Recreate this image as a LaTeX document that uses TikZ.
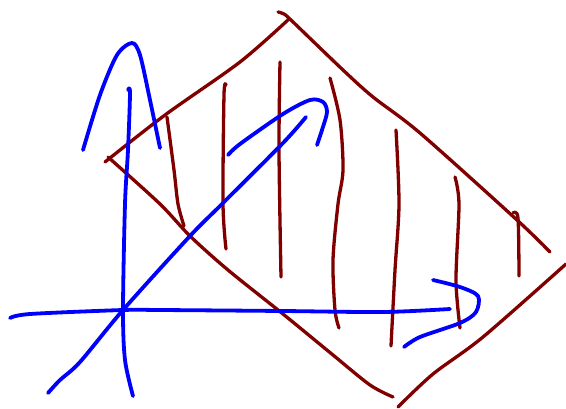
\documentclass[tikz,border=0pt]{standalone}
\usepackage{tikz}
\usepackage{xcolor}
\definecolor{inkred}{HTML}{800000}
\definecolor{inkblue}{HTML}{0000FF}

\begin{document}
\begin{tikzpicture}[x=1pt, y=-1pt,
    bluepen/.style={inkblue, line width=3.8pt, line cap=round, line join=round},
    redpen/.style={inkred, line width=3.3pt, line cap=round, line join=round}]
      \useasboundingbox (0,0) rectangle (566,408);
      % diamond
      \draw[redpen] plot[smooth] coordinates {(105,162) (165,115) (240,62) (289,19)};
      \draw[redpen] plot[smooth] coordinates {(278,12) (284,14) (292,21) (343,70) (373,97) (420,133) (517,220) (550,252)};
      \draw[redpen] plot[smooth] coordinates {(108,157) (160,204) (190,236) (228,270) (283,314) (333,355) (370,385) (393,397)};
      \draw[redpen] plot[smooth] coordinates {(566,264) (483,337) (433,374) (398,407)};
      % hatching
      \draw[redpen] plot[smooth] coordinates {(167,117) (174,170) (178,204) (184,226)};
      \draw[redpen] plot[smooth] coordinates {(226,85) (224,95) (223,204) (226,249)};
      \draw[redpen] plot[smooth] coordinates {(280,62) (279,150) (281,277)};
      \draw[redpen] plot[smooth] coordinates {(330,78) (340,120) (343,170) (338,204) (333,260) (335,310) (339,328)};
      \draw[redpen] plot[smooth] coordinates {(396,130) (399,204) (395,270) (391,346)};
      \draw[redpen] plot[smooth] coordinates {(455,177) (459,204) (456,280) (460,328)};
      \draw[redpen] plot[smooth] coordinates {(513,213) (518,218) (519,276)};
      % axes
      \draw[bluepen] plot[smooth] coordinates {(128,90) (130,93) (128,150) (125,204) (123,310) (125,360) (133,396)};
      \draw[bluepen] plot[smooth] coordinates {(83,150) (100,95) (117,55) (132,43) (140,55) (150,100) (160,148)};
      \draw[bluepen] plot[smooth] coordinates {(10,318) (30,314) (123,310) (160,310) (283,311) (383,312) (450,309)};
      \draw[bluepen] plot[smooth] coordinates {(433,280) (460,287) (478,296) (476,312) (460,323) (420,337) (404,347)};
      \draw[bluepen] plot[smooth] coordinates {(48,393) (60,380) (80,362) (123,310) (190,236) (222,204) (283,143) (306,117)};
      \draw[bluepen] plot[smooth] coordinates {(228,155) (240,144) (283,114) (310,100) (323,102) (327,112) (322,130) (317,145)};
    \end{tikzpicture}
\end{document}
